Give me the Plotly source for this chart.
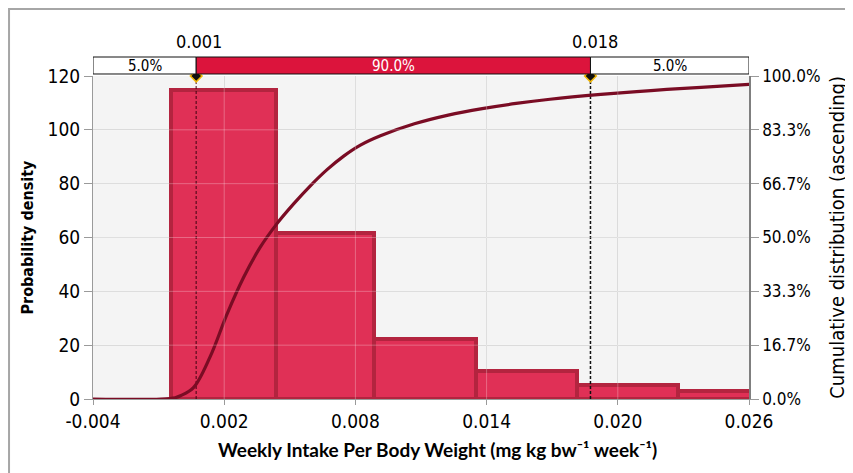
import plotly.graph_objects as go

# ---------------- data ----------------
bin_edges = [-0.00043, 0.00435, 0.00885, 0.01350, 0.01812, 0.02276, 0.02740]
bin_density = [114.8, 61.6, 22.2, 10.3, 5.1, 3.0]

cdf_x = [-0.0040, -0.0009, -0.00024, 0.0000, 0.000594, 0.001359, 0.002124, 0.002884,
         0.003649, 0.004414, 0.005174, 0.005939, 0.006704, 0.007464, 0.008229,
         0.009145, 0.010698, 0.012246, 0.013799, 0.015351, 0.016899, 0.019222,
         0.021512, 0.023802, 0.026046]
cdf_y = [0.0, 0.0, 0.004, 0.010, 0.035, 0.131, 0.262, 0.376,
         0.470, 0.543, 0.604, 0.660, 0.710, 0.752, 0.786,
         0.815, 0.852, 0.879, 0.899, 0.915, 0.928, 0.943,
         0.955, 0.965, 0.974]

p_low, p_high = 0.00072, 0.01875
p_low_label, p_high_label = "0.001", "0.018"
band_labels = ["5.0%", "90.0%", "5.0%"]

x_range = [-0.004, 0.026]
x_ticks = [-0.004, 0.002, 0.008, 0.014, 0.020, 0.026]
x_ticktext = ["-0.004", "0.002", "0.008", "0.014", "0.020", "0.026"]
y_ticks = [0, 20, 40, 60, 80, 100, 120]
y2_ticks = [0, 1/6, 2/6, 3/6, 4/6, 5/6, 1]
y2_ticktext = ["0.0%", "16.7%", "33.3%", "50.0%", "66.7%", "83.3%", "100.0%"]

FONT = "DejaVu Sans Condensed, DejaVu Sans, sans-serif"
BOLD_FONT = "Lato, Open Sans, sans-serif"

centers = [(a + b) / 2 for a, b in zip(bin_edges[:-1], bin_edges[1:])]
widths = [b - a for a, b in zip(bin_edges[:-1], bin_edges[1:])]

fig = go.Figure()

fig.add_trace(go.Bar(
    x=centers, y=bin_density, width=widths,
    marker=dict(color="#e03056", line=dict(color="#b3243f", width=4)),
    showlegend=False, hoverinfo="skip",
))

# dashed percentile lines
for xv, col in [(p_low, "rgba(60,0,15,0.65)"), (p_high, "#111111")]:
    fig.add_trace(go.Scatter(
        x=[xv, xv], y=[0, 120], mode="lines",
        line=dict(color=col, width=1.5, dash="3px,2px"),
        showlegend=False, hoverinfo="skip",
    ))

fig.add_trace(go.Scatter(
    x=cdf_x, y=cdf_y, mode="lines", yaxis="y2",
    line=dict(color="#7a0c24", width=3.2, shape="spline", smoothing=1.0),
    showlegend=False, hoverinfo="skip",
))

fig.add_trace(go.Scatter(
    x=[p_low, p_high], y=[120, 120], mode="markers", cliponaxis=False,
    marker=dict(symbol="diamond", size=9, color="#111111",
                line=dict(color="#f2b705", width=1.5)),
    showlegend=False, hoverinfo="skip",
))

shapes = []
# light grid lines over the bars
for xv in x_ticks[1:-1]:
    shapes.append(dict(type="line", xref="x", yref="y", x0=xv, x1=xv, y0=0, y1=120,
                       line=dict(color="rgba(255,255,255,0.28)", width=1), layer="above"))
for yv in y_ticks[1:-1]:
    shapes.append(dict(type="line", xref="x", yref="y", x0=x_range[0], x1=x_range[1],
                       y0=yv, y1=yv,
                       line=dict(color="rgba(255,255,255,0.28)", width=1), layer="above"))

# percentile band above the plot
band_y0, band_y1 = 1.0062, 1.0588
segments = [(x_range[0], p_low, "white"), (p_low, p_high, "#dc143c"), (p_high, x_range[1], "white")]
for (a, b, c) in segments:
    shapes.append(dict(type="rect", xref="x", yref="paper", x0=a, x1=b, y0=band_y0, y1=band_y1,
                       fillcolor=c, line=dict(color="#111111", width=1), layer="above"))

# figure frame
shapes.append(dict(type="rect", xref="paper", yref="paper", x0=-0.1280, x1=1.169,
                   y0=-0.2508, y1=1.2074, line=dict(color="#a6a6a6", width=2),
                   fillcolor="rgba(0,0,0,0)"))

annotations = []
for (a, b, c), lab in zip(segments, band_labels):
    annotations.append(dict(x=(a + b) / 2, y=(band_y0 + band_y1) / 2, xref="x", yref="paper",
                            text=lab, showarrow=False, yanchor="middle",
                            font=dict(family=FONT, size=15,
                                      color="white" if c != "white" else "black")))
for xv, lab, sh in [(p_low, p_low_label, 3), (p_high, p_high_label, 5)]:
    annotations.append(dict(x=xv, y=1.108, xref="x", yref="paper", text=lab, showarrow=False,
                            xshift=sh, yanchor="middle",
                            font=dict(family=FONT, size=18, color="black")))

annotations.append(dict(x=-0.1006, y=0.5, xref="paper", yref="paper", text="<b>Probability density</b>",
                        textangle=-90, showarrow=False, xanchor="center", yanchor="middle",
                        font=dict(family=FONT, size=16, color="black")))
annotations.append(dict(x=1.1330, y=0.5, xref="paper", yref="paper",
                        text="Cumulative distribution (ascending)",
                        textangle=-90, showarrow=False, xanchor="center", yanchor="middle",
                        font=dict(family=FONT, size=20, color="black")))
annotations.append(dict(x=0.5244, y=-0.1548, xref="paper", yref="paper",
                        text="<b>Weekly Intake Per Body Weight (mg kg bw⁻¹ week⁻¹)</b>",
                        showarrow=False, xanchor="center", yanchor="middle",
                        font=dict(family=BOLD_FONT, size=19, color="black")))

fig.update_layout(
    width=853, height=473,
    margin=dict(l=85, r=112, t=68, b=82),
    paper_bgcolor="white", plot_bgcolor="#f4f4f4",
    bargap=0,
    shapes=shapes, annotations=annotations,
    xaxis=dict(range=x_range, tickvals=x_ticks, ticktext=x_ticktext,
               showgrid=True, gridcolor="#d3d3d3", gridwidth=1,
               showline=True, linecolor="#9a9a9a", linewidth=1,
               ticks="outside", ticklen=5, tickcolor="#9a9a9a",
               tickfont=dict(family=FONT, size=19, color="black"),
               zeroline=False, mirror=False),
    yaxis=dict(range=[0, 120], tickvals=y_ticks,
               showgrid=True, gridcolor="#d3d3d3", gridwidth=1,
               showline=True, linecolor="#9a9a9a", linewidth=1,
               ticks="outside", ticklen=8, tickcolor="#9a9a9a",
               tickfont=dict(family=FONT, size=19, color="black"),
               zeroline=False),
    yaxis2=dict(range=[0, 1], overlaying="y", side="right",
                tickvals=y2_ticks, ticktext=y2_ticktext,
                showgrid=False, showline=True, linecolor="#7f7f7f", linewidth=1.5,
                ticks="outside", ticklen=8, tickcolor="#9a9a9a",
                tickfont=dict(family=FONT, size=17, color="black"),
                zeroline=False),
)

fig.write_html("out.html")
